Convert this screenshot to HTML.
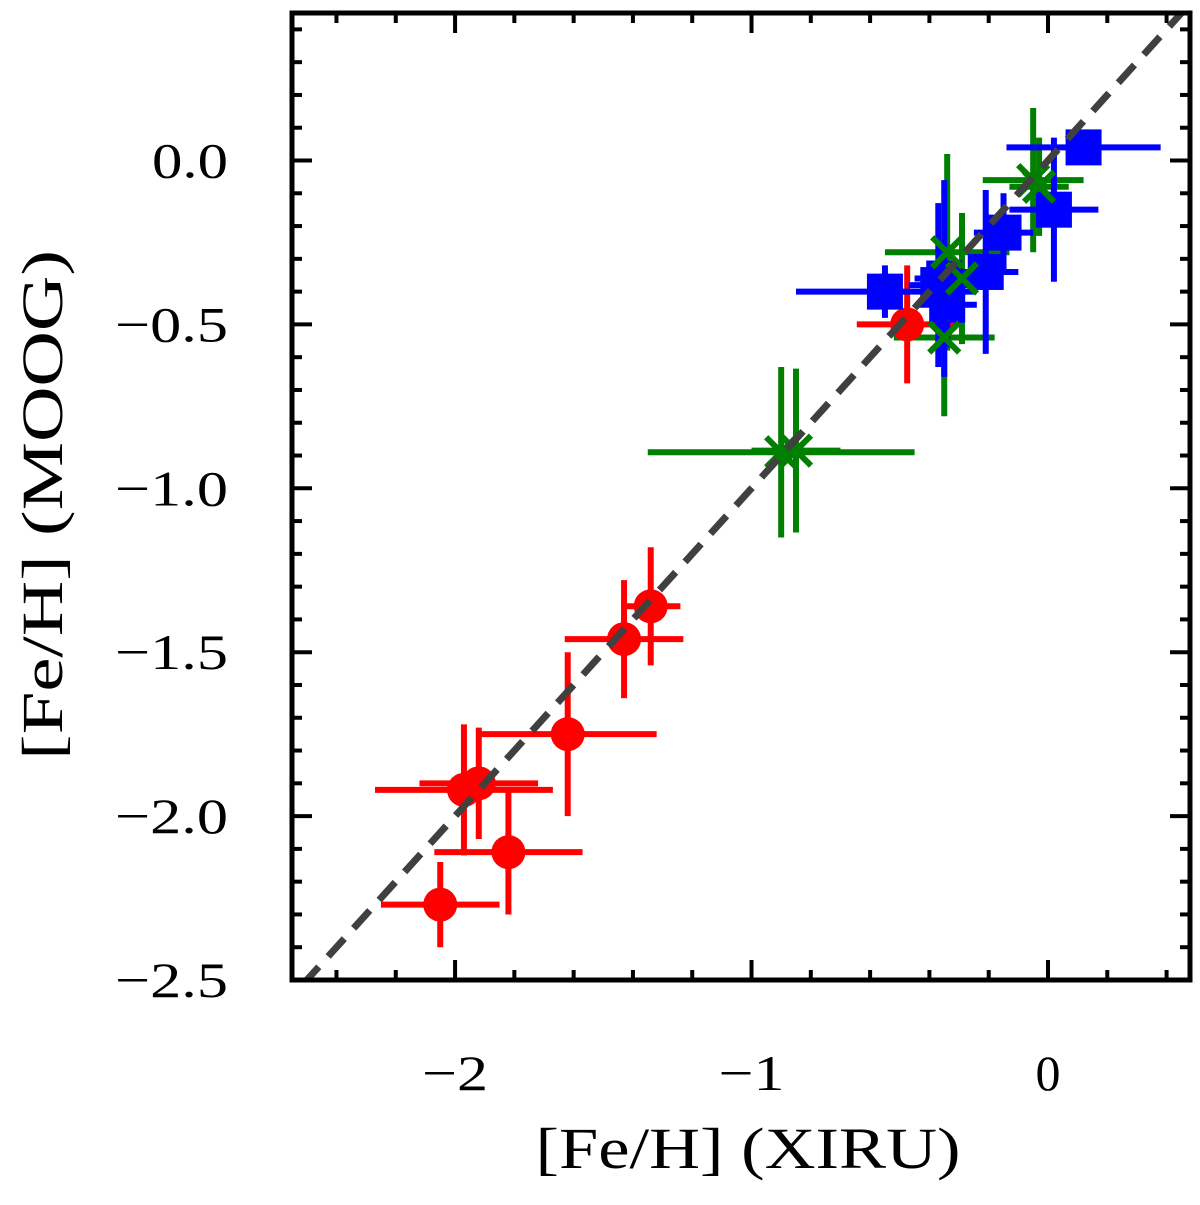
<!DOCTYPE html>
<html><head><meta charset="utf-8"><style>
html,body{margin:0;padding:0;background:#fff;}
svg text{font-family:"Liberation Serif",serif;fill:#000;}
</style></head><body>
<svg id="chart" width="1200" height="1200" viewBox="0 0 1200 1200" xmlns="http://www.w3.org/2000/svg">
<g id="plot"></g>
<text x="748" y="1168" font-size="58" text-anchor="middle" textLength="425" lengthAdjust="spacingAndGlyphs">[Fe/H] (XIRU)</text>
<text transform="translate(62,505) rotate(-90)" font-size="58" text-anchor="middle" textLength="510" lengthAdjust="spacingAndGlyphs">[Fe/H] (MOOG)</text>
</svg>
<script>
// ---- data ----
const redX  = [-2.05,-1.82,-1.97,-1.92,-1.62,-1.43,-1.34,-0.475];
const redY  = [-2.27,-2.11,-1.92,-1.90,-1.75,-1.46,-1.36,-0.50];
const redXe = [0.20,0.25,0.30,0.20,0.30,0.20,0.10,0.17];
const redYe = [0.13,0.19,0.20,0.17,0.25,0.18,0.18,0.18];
const greenX  = [-0.90,-0.85,-0.05,-0.03,-0.34,-0.29,-0.35];
const greenY  = [-0.89,-0.885,-0.06,-0.08,-0.28,-0.36,-0.54];
const greenXe = [0.45,0.15,0.17,0.10,0.21,0.10,0.17];
const greenYe = [0.26,0.25,0.22,0.15,0.30,0.20,0.24];
const blueX  = [0.12,0.02,-0.15,-0.21,-0.35,-0.34,-0.55,-0.37];
const blueY  = [0.04,-0.15,-0.22,-0.34,-0.36,-0.44,-0.40,-0.38];
const blueXe = [0.26,0.15,0.10,0.11,0.10,0.10,0.30,0.10];
const blueYe = [0.05,0.22,0.12,0.25,0.30,0.13,0.08,0.25];
const xTicks = [-2,-1,0];
const xTickLabels = ["\u22122","\u22121","0"];
const yTicks = [0,-0.5,-1,-1.5,-2,-2.5];
const yTickLabels = ["0.0","\u22120.5","\u22121.0","\u22121.5","\u22122.0","\u22122.5"];

// ---- axes ----
const L=292,R=1190,T=13,B=980;
const xmin=-2.55,xmax=0.479,ymin=-2.5,ymax=0.45;
const sx=v=>L+(v-xmin)/(xmax-xmin)*(R-L);
const sy=v=>B-(v-ymin)/(ymax-ymin)*(B-T);
const NS="http://www.w3.org/2000/svg";
const g=document.getElementById('plot');
function mk(tag,attrs,parent){const e=document.createElementNS(NS,tag);for(const k in attrs)e.setAttribute(k,attrs[k]);(parent||g).appendChild(e);return e;}

for(let i=-25;i<=4;i++){const v=i/10;if(v<xmin||v>xmax)continue;if(i%2!==0)continue;
 const major=Math.abs(v-Math.round(v))<1e-9;const len=major?20:10;
 const t1=mk('line',{x1:sx(v),x2:sx(v),y1:B,y2:B-len,stroke:'#000','stroke-width':4});
 
 
 const t2=mk('line',{x1:sx(v),x2:sx(v),y1:T,y2:T+len,stroke:'#000','stroke-width':4});
 
 
}
for(let i=-25;i<=4;i++){const v=i/10;const major=(i%5===0);const len=major?20:10;
 const t1=mk('line',{x1:L,x2:L+len,y1:sy(v),y2:sy(v),stroke:'#000','stroke-width':4});
 
 
 const t2=mk('line',{x1:R,x2:R-len,y1:sy(v),y2:sy(v),stroke:'#000','stroke-width':4});
 
 
}
xTicks.forEach((v,i)=>{const t=mk('text',{x:sx(v),y:1090,'font-size':50,'text-anchor':'middle'});t.textContent=xTickLabels[i];
 if(i<2){t.setAttribute('textLength',66);t.setAttribute('lengthAdjust','spacingAndGlyphs');}
 
 });
yTicks.forEach((v,i)=>{const t=mk('text',{x:228,y:sy(v)+17,'font-size':50,'text-anchor':'end'});t.textContent=yTickLabels[i];
 t.setAttribute('textLength',i===0?76:113);t.setAttribute('lengthAdjust','spacingAndGlyphs');
 
 });

const defs=mk('defs',{});const cp=mk('clipPath',{id:'cp'},defs);mk('rect',{x:L,y:T,width:R-L,height:B-T},cp);
const inner=mk('g',{'clip-path':'url(#cp)'});



function errbars(xs,ys,xe,ye,col,name){
 xs.forEach((x,i)=>{
  const h=mk('line',{x1:sx(x-xe[i]),x2:sx(x+xe[i]),y1:sy(ys[i]),y2:sy(ys[i]),stroke:col,'stroke-width':6},inner);
  
  
  const v=mk('line',{x1:sx(x),x2:sx(x),y1:sy(ys[i]-ye[i]),y2:sy(ys[i]+ye[i]),stroke:col,'stroke-width':6},inner);
  
  
 });
}
errbars(redX,redY,redXe,redYe,'#ff0000','red');
errbars(greenX,greenY,greenXe,greenYe,'#007f00','green');
errbars(blueX,blueY,blueXe,blueYe,'#0000ff','blue');
redX.forEach((x,i)=>{const c=mk('circle',{cx:sx(x),cy:sy(redY[i]),r:17,fill:'#ff0000'},inner);
 
 });
blueX.forEach((x,i)=>{const c=mk('rect',{x:sx(x)-18,y:sy(blueY[i])-18,width:36,height:36,fill:'#0000ff'},inner);
 
 });
greenX.forEach((x,i)=>{const cx=sx(x),cy=sy(greenY[i]),d=15;
 const p=mk('path',{d:`M${cx-d},${cy-d}L${cx+d},${cy+d}M${cx-d},${cy+d}L${cx+d},${cy-d}`,stroke:'#007f00','stroke-width':6,fill:'none'},inner);
 
 });
const dl=mk('line',{x1:sx(-2.6),y1:sy(-2.6),x2:sx(0.5),y2:sy(0.5),stroke:'#404040','stroke-width':7,'stroke-dasharray':'24,14'},inner);


const fr=mk('rect',{x:L,y:T,width:R-L,height:B-T,fill:'none',stroke:'#000','stroke-width':5});


</script>
</body></html>
